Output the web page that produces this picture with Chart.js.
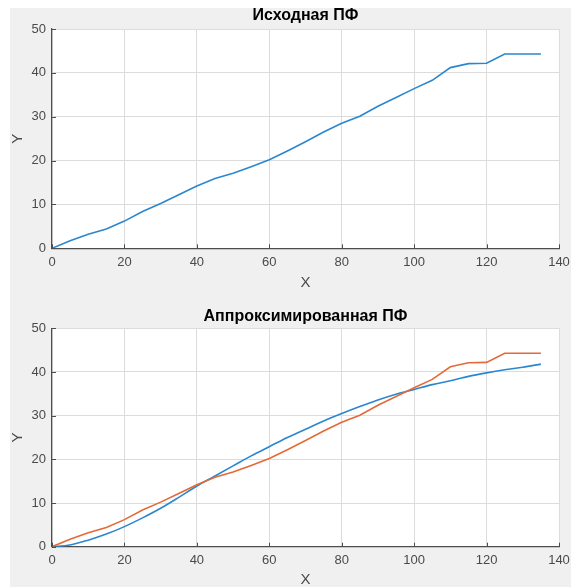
<!DOCTYPE html>
<html>
<head>
<meta charset="utf-8">
<script src="https://cdn.jsdelivr.net/npm/chart.js@4.4.1/dist/chart.umd.min.js"></script>
<style>
  html, body { margin: 0; padding: 0; background: #fff; width: 571px; height: 587px; overflow: hidden; }
  #bg { position: absolute; left: 10px; top: 8px; right: 0; bottom: 0; background: #f0f0f0; }
  canvas { position: absolute; left: 0; }
  #srcChart { top: 0; }
  #fitChart { top: 295px; }
</style>
</head>
<body>
<div id="bg"></div>
<canvas id="srcChart" width="571" height="295"></canvas>
<canvas id="fitChart" width="571" height="300"></canvas>
<script>
// X grid of the transfer function samples
const xValues = [0, 5, 10, 15, 20, 25, 30, 35, 40, 45, 50, 55, 60, 65,
                 70, 75, 80, 85, 90, 95, 100, 105, 110, 115, 120, 125, 130, 135];
// measured values
const sourceY = [0, 1.7, 3.2, 4.4, 6.2, 8.4, 10.2, 12.2, 14.2, 15.9, 17.1, 18.6, 20.2, 22.2,
                 24.3, 26.5, 28.5, 30.1, 32.4, 34.4, 36.4, 38.3, 41.2, 42.1, 42.2, 44.3, 44.3, 44.3];
// approximation
const fittedY = [0, 0.4, 1.5, 2.9, 4.6, 6.6, 8.8, 11.3, 13.9, 16.2, 18.5, 20.8, 22.9, 25.0,
                 26.9, 28.8, 30.5, 32.1, 33.6, 34.9, 36.0, 37.1, 38.0, 39.0, 39.8, 40.5, 41.1, 41.8];

const xTicks = [0, 20, 40, 60, 80, 100, 120, 140];
const yTicks = [0, 10, 20, 30, 40, 50];

const FONT = '"Liberation Sans", Arial, Helvetica, sans-serif';
const BLUE = '#2a87cf';
const ORANGE = '#e36a36';
const axisColor = '#4d4d4d';
const tickColor = '#4a4a4a';
const gridColor = '#dcdcdc';

const toPoints = ys => xValues.map((x, i) => ({ x: x, y: ys[i] }));

// white plot box, inward tick marks and the title centred over the plot box
const axesBox = {
  id: 'axesBox',
  beforeDraw(chart) {
    const { ctx, chartArea: a } = chart;
    ctx.save();
    ctx.fillStyle = '#fff';
    ctx.fillRect(a.left, a.top, a.right - a.left, a.bottom - a.top);
    ctx.restore();
  },
  afterDraw(chart, args, opts) {
    const { ctx, chartArea: a, scales: { x, y } } = chart;
    ctx.save();
    ctx.strokeStyle = axisColor;
    ctx.lineWidth = 1;
    ctx.beginPath();
    x.ticks.forEach(t => {
      const px = Math.round(x.getPixelForValue(t.value)) + 0.5;
      ctx.moveTo(px, a.bottom);
      ctx.lineTo(px, a.bottom - 4);
    });
    y.ticks.forEach(t => {
      const py = Math.round(y.getPixelForValue(t.value)) + 0.5;
      ctx.moveTo(a.left, py);
      ctx.lineTo(a.left + 4, py);
    });
    ctx.stroke();

    ctx.fillStyle = '#000';
    ctx.font = 'bold 16px ' + FONT;
    ctx.textAlign = 'center';
    ctx.textBaseline = 'middle';
    ctx.fillText(opts.text, (a.left + a.right) / 2, a.top - opts.gap);
    ctx.restore();
  }
};

function makeChart(id, titleText, titleGap, topPad, xAxisHeight, xTitlePad, datasets) {
  return new Chart(document.getElementById(id), {
    type: 'line',
    data: { datasets: datasets },
    options: {
      responsive: false,
      animation: false,
      devicePixelRatio: 1,
      layout: { padding: { top: topPad, right: 12 } },
      elements: {
        point: { radius: 0 },
        line: { borderWidth: 1.6, tension: 0 }
      },
      plugins: {
        legend: { display: false },
        tooltip: { enabled: false },
        title: { display: false },
        axesBox: { text: titleText, gap: titleGap }
      },
      scales: {
        x: {
          type: 'linear',
          min: 0,
          max: 140,
          afterBuildTicks: s => { s.ticks = xTicks.map(v => ({ value: v })); },
          afterFit: s => { s.height = xAxisHeight; s.paddingLeft = 0; s.paddingRight = 0; },
          grid: { color: gridColor, lineWidth: 1, drawTicks: false },
          border: { color: axisColor, width: 1.2 },
          ticks: { color: tickColor, font: { family: FONT, size: 13 }, padding: 6, maxRotation: 0, autoSkip: false },
          title: {
            display: true, text: 'X', color: tickColor,
            font: { family: FONT, size: 15, lineHeight: 1.2 },
            padding: { top: 0, bottom: xTitlePad }
          }
        },
        y: {
          min: 0,
          max: 50,
          afterBuildTicks: s => { s.ticks = yTicks.map(v => ({ value: v })); },
          afterFit: s => { s.width = 52; },
          grid: { color: gridColor, lineWidth: 1, drawTicks: false },
          border: { color: axisColor, width: 1.2 },
          ticks: { color: tickColor, font: { family: FONT, size: 13 }, padding: 6, autoSkip: false },
          title: {
            display: true, text: 'Y', color: tickColor,
            font: { family: FONT, size: 15, lineHeight: 1.2 },
            padding: { top: 9, bottom: 0 }
          }
        }
      }
    },
    plugins: [axesBox]
  });
}

makeChart('srcChart', 'Исходная ПФ', 13, 29, 46.7, 3.3, [
  { data: toPoints(sourceY), borderColor: BLUE }
]);

makeChart('fitChart', 'Аппроксимированная ПФ', 11.6, 33.3, 48.3, 6, [
  { data: toPoints(sourceY), borderColor: ORANGE },
  { data: toPoints(fittedY), borderColor: BLUE, cubicInterpolationMode: 'monotone' }
]);
</script>
</body>
</html>
